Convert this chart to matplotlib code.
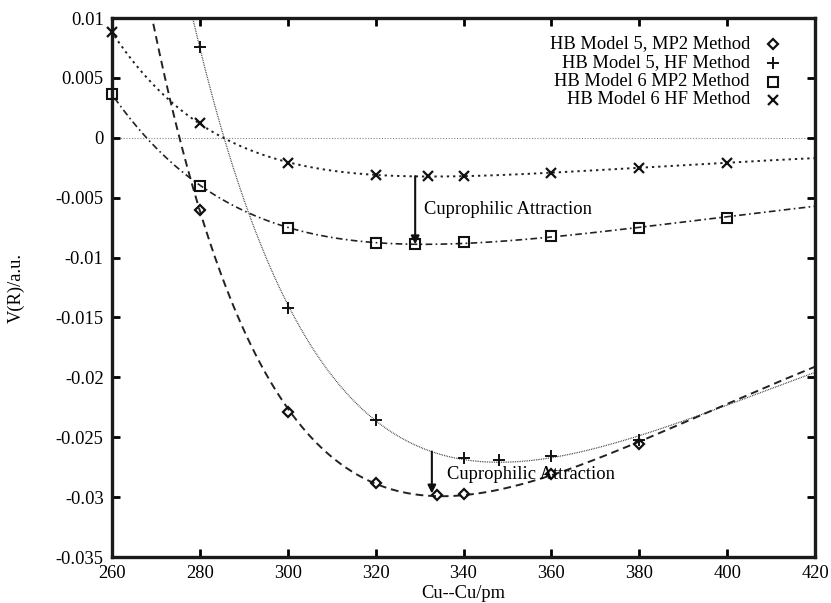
import numpy as np
import matplotlib
matplotlib.use("Agg")
import matplotlib.pyplot as plt

# ---- data ----
r_m5_mp2 = [280, 300, 320, 334, 340, 360, 380]
v_m5_mp2 = [-0.0060, -0.0229, -0.0288, -0.0298, -0.0297, -0.0281, -0.0256]

r_m5_hf = [280, 300, 320, 340, 348, 360, 380]
v_m5_hf = [0.0076, -0.0142, -0.0236, -0.0267, -0.0269, -0.0266, -0.0252]

r_m6_mp2 = [260, 280, 300, 320, 329, 340, 360, 380, 400]
v_m6_mp2 = [0.00365, -0.0040, -0.0075, -0.0088, -0.0089, -0.0087, -0.0082, -0.0075, -0.0067]

r_m6_hf = [260, 280, 300, 320, 332, 340, 360, 380, 400]
v_m6_hf = [0.0088, 0.0012, -0.0021, -0.0031, -0.0032, -0.0032, -0.0029, -0.0025, -0.0021]

labels = ["HB Model 5, MP2 Method", "HB Model 5, HF Method",
          "HB Model 6 MP2 Method", "HB Model 6 HF Method"]

xticks = [260, 280, 300, 320, 340, 360, 380, 400, 420]
yticks = [0.01, 0.005, 0, -0.005, -0.01, -0.015, -0.02, -0.025, -0.03, -0.035]
ytick_labels = ["0.01", "0.005", "0", "-0.005", "-0.01", "-0.015", "-0.02",
                "-0.025", "-0.03", "-0.035"]

# annotation arrows (x, y_start, y_end)
arrow_top = (329, -0.0032, -0.0089)
arrow_bot = (332.8, -0.0262, -0.0297)
text_top = (331, -0.0060)
text_bot = (336.2, -0.0281)


def fit_curve(R, V, R_eval):
    R = np.asarray(R, float)
    V = np.asarray(V, float)
    best = None
    for a in np.linspace(0.004, 0.08, 600):
        B = np.column_stack([np.exp(-k * a * (R - 300)) for k in (1, 2, 3)])
        c, *_ = np.linalg.lstsq(B, V, rcond=None)
        err = np.sum((B @ c - V) ** 2)
        if best is None or err < best[0]:
            best = (err, a, c)
    _, a, c = best
    Be = np.column_stack([np.exp(-k * a * (R_eval - 300)) for k in (1, 2, 3)])
    return Be @ c


plt.rcParams['font.family'] = ['Liberation Serif', 'DejaVu Serif']
plt.rcParams['font.size'] = 13.3

fig = plt.figure(figsize=(8.31, 6.03), dpi=100)
ax = fig.add_axes([112 / 831, 1 - 557 / 603, (815 - 112) / 831, (557 - 18) / 603])

R_eval = np.linspace(255, 425, 800)

ax.axhline(0, color='#888888', lw=0.8, ls=(0, (1, 1.5)), zorder=1)

series = [
    (r_m5_mp2, v_m5_mp2, dict(ls=(0, (4, 2.5)), lw=1.4), 'D', dict(ms=5.5, mfc='none', mew=1.6)),
    (r_m5_hf, v_m5_hf, dict(ls=(0, (0.6, 0.8)), lw=0.9), '+', dict(ms=8, mew=1.4)),
    (r_m6_mp2, v_m6_mp2, dict(ls=(0, (4, 2, 1, 2)), lw=1.2), 's', dict(ms=7, mfc='none', mew=1.5)),
    (r_m6_hf, v_m6_hf, dict(ls=(0, (1.2, 2)), lw=1.4), 'x', dict(ms=7, mew=1.6)),
]

for R, V, lstyle, mk, mstyle in series:
    ax.plot(R_eval, fit_curve(R, V, R_eval), color='#222222', zorder=2, **lstyle)
    ax.plot(R, V, ls='none', marker=mk, color='#111111', zorder=3, clip_on=False, **mstyle)

# legend drawn manually (right-aligned text, marker to right)
leg_y = [44, 63, 82, 100]
for (R, V, lstyle, mk, mstyle), lab, yy in zip(series, labels, leg_y):
    yf = 1 - (yy - 18) / (557 - 18)
    ax.text((750 - 112) / (815 - 112), yf, lab, transform=ax.transAxes,
            ha='right', va='center', fontsize=13.3)
    ax.plot([(773 - 112) / (815 - 112)], [yf], transform=ax.transAxes,
            marker=mk, ls='none', color='#111111', **mstyle)

# arrows
for (xa, y0, y1) in (arrow_top, arrow_bot):
    ax.annotate('', xy=(xa, y1), xytext=(xa, y0),
                arrowprops=dict(arrowstyle='-|>', color='#111111', lw=1.5,
                                mutation_scale=12, shrinkA=0, shrinkB=0))
ax.text(text_top[0], text_top[1], "Cuprophilic Attraction", ha='left', va='center', fontsize=13.3)
ax.text(text_bot[0], text_bot[1], "Cuprophilic Attraction", ha='left', va='center', fontsize=13.3)

ax.set_xlim(260, 420)
ax.set_ylim(-0.035, 0.01)
ax.set_xticks(xticks)
ax.set_xticklabels([str(t) for t in xticks])
ax.set_yticks(yticks)
ax.set_yticklabels(ytick_labels)
ax.tick_params(direction='in', length=6, width=2, top=True, right=True, pad=6)
ax.tick_params(axis='x', pad=6)
for sp in ax.spines.values():
    sp.set_linewidth(2.4)
    sp.set_color('#1a1a1a')

ax.set_xlabel("Cu--Cu/pm", labelpad=2)
ax.set_ylabel("V(R)/a.u.", labelpad=22)

fig.savefig("out.png", dpi=100)
